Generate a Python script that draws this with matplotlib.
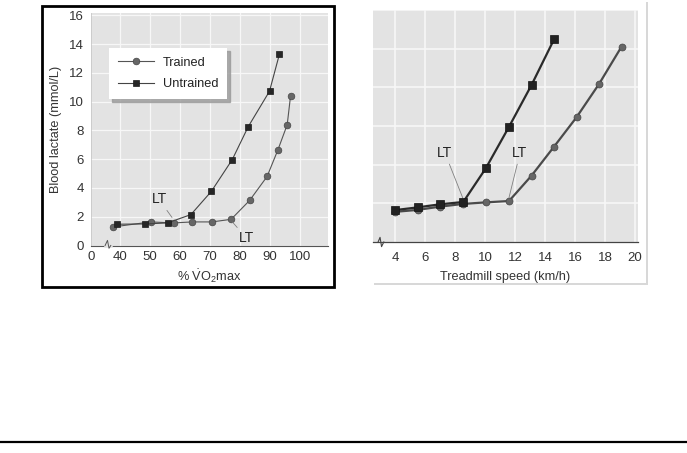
import matplotlib
matplotlib.use("Agg")
import matplotlib.pyplot as plt
from matplotlib.patches import Rectangle
from matplotlib.lines import Line2D
import matplotlib.transforms as mtransforms

plt.rcParams['font.family'] = ['Liberation Sans', 'DejaVu Sans']
plt.rcParams['mathtext.fontset'] = 'custom'
plt.rcParams['mathtext.rm'] = 'Liberation Sans'
plt.rcParams['mathtext.it'] = 'Liberation Sans:italic'

# ---- Left panel data: % VO2max vs blood lactate ----
left_trained_x = [37.6, 50.2, 57.8, 64.1, 70.6, 77.0, 83.2, 89.0, 92.6, 95.7, 96.8]
left_trained_y = [1.29, 1.64, 1.57, 1.64, 1.64, 1.82, 3.14, 4.80, 6.65, 8.40, 10.37]
left_untrained_x = [39.1, 48.3, 55.8, 63.6, 70.4, 77.4, 82.7, 89.8, 93.1]
left_untrained_y = [1.48, 1.50, 1.57, 2.15, 3.76, 5.98, 8.26, 10.73, 13.3]
left_xticks = [30.3, 40, 50, 60, 70, 80, 90, 100]
left_xticklabels = ['0', '40', '50', '60', '70', '80', '90', '100']
left_yticks = [0, 2, 4, 6, 8, 10, 12, 14, 16]

# ---- Right panel data: treadmill speed vs blood lactate ----
right_trained_x = [4.0, 5.5, 7.0, 8.55, 10.05, 11.6, 13.1, 14.6, 16.1, 17.6, 19.1]
right_trained_y = [1.56, 1.66, 1.83, 1.97, 2.05, 2.12, 3.43, 4.93, 6.45, 8.17, 10.1]
right_untrained_x = [4.0, 5.5, 7.0, 8.55, 10.05, 11.6, 13.1, 14.6]
right_untrained_y = [1.65, 1.79, 1.95, 2.07, 3.81, 5.96, 8.12, 10.48]
right_xticks = [4, 6, 8, 10, 12, 14, 16, 18, 20]
right_yticks = [2, 4, 6, 8, 10, 12]

W, H = 687, 453
fig = plt.figure(figsize=(W / 100, H / 100), dpi=100)

def fx(px):
    return px / W

def fy(py):
    return 1 - py / H

BG = '#e3e3e3'
GRID = '#f7f7f7'
TXT = '#333333'
TICK_FS = 9.5
LAB_FS = 9.2
LT_FS = 10

# Right panel card (white with soft shadow)
fig.patches.append(Rectangle((fx(374), fy(285)), fx(648) - fx(374), fy(2) - fy(285),
                             transform=fig.transFigure, facecolor='#d8d8d8', edgecolor='none', zorder=-2))
fig.patches.append(Rectangle((fx(372), fy(283)), fx(646) - fx(372), fy(0) - fy(283),
                             transform=fig.transFigure, facecolor='white', edgecolor='none', zorder=-1))

# Left panel border
fig.patches.append(Rectangle((fx(41.5), fy(286.5)), fx(333.5) - fx(41.5), fy(5.5) - fy(286.5),
                             transform=fig.transFigure, facecolor='none', edgecolor='black',
                             linewidth=2.0, zorder=5))

# Bottom rule
fig.add_artist(Line2D([0, 1], [fy(441.7), fy(441.7)], transform=fig.transFigure,
                      color='black', linewidth=1.6))

# ---------------- Left axes ----------------
axL = fig.add_axes([fx(91), fy(245.5), fx(328) - fx(91), fy(13.3) - fy(245.5)])
axL.set_facecolor(BG)
axL.set_xlim(30.3, 109.3)
axL.set_ylim(0, 16.15)
axL.set_xticks(left_xticks)
axL.set_xticklabels(left_xticklabels)
axL.set_yticks(left_yticks)
axL.tick_params(length=0, labelsize=TICK_FS, colors=TXT, pad=5)
axL.tick_params(axis='x', pad=4)
axL.grid(True, color=GRID, linewidth=0.9)
axL.set_axisbelow(True)
for s in ['top', 'right']:
    axL.spines[s].set_visible(False)
axL.spines['left'].set_color('#c8c8c8')
axL.spines['left'].set_linewidth(0.6)
axL.spines['bottom'].set_color('#555555')
axL.spines['bottom'].set_linewidth(0.8)
axL.get_xgridlines()[0].set_visible(False)

axL.plot(left_trained_x, left_trained_y, '-o', color='#555555', linewidth=0.8,
         markersize=4.8, markerfacecolor='#666666', markeredgecolor='#444444',
         markeredgewidth=0.5, label='Trained', zorder=3)
axL.plot(left_untrained_x, left_untrained_y, '-s', color='#444444', linewidth=0.8,
         markersize=5.0, markerfacecolor='#262626', markeredgecolor='#1a1a1a',
         markeredgewidth=0.5, label='Untrained', zorder=4)
leg = axL.legend(loc='upper left', bbox_to_anchor=(0.076, 0.851), borderaxespad=0,
                 fontsize=LAB_FS, frameon=True, fancybox=False, shadow={'color': '#9a9a9a', 'alpha': 0.8},
                 handlelength=2.8, borderpad=0.7, labelspacing=0.75, handletextpad=0.7)
leg.get_frame().set_edgecolor('none')
leg.get_frame().set_facecolor('white')
for t in leg.get_texts():
    t.set_color('#222222')

axL.annotate('LT', xy=(57.3, 1.95), xytext=(53.0, 3.2), fontsize=LT_FS, color='#222222',
             ha='center', va='center',
             arrowprops=dict(arrowstyle='-', color='#808080', linewidth=0.6, shrinkA=1, shrinkB=0))
axL.annotate('LT', xy=(77.5, 1.62), xytext=(82.2, 0.5), fontsize=LT_FS, color='#222222',
             ha='center', va='center',
             arrowprops=dict(arrowstyle='-', color='#808080', linewidth=0.6, shrinkA=1, shrinkB=0))

axL.set_ylabel('Blood lactate (mmol/L)', fontsize=LAB_FS, color=TXT, labelpad=5)
axL.set_xlabel('% $\\dot{\\mathrm{V}}$O$_2$max', fontsize=LAB_FS, color=TXT, labelpad=3)

# axis break marks
trL = mtransforms.blended_transform_factory(axL.transData, axL.transAxes)
axL.add_line(Line2D([35.0, 36.9], [0.0, 0.0], transform=trL, color=BG, linewidth=1.8,
                    clip_on=False, zorder=6))
axL.add_line(Line2D([35.0, 35.8, 36.3, 36.9], [0.0, 0.022, -0.012, 0.0], transform=trL,
                    color='#555555', linewidth=0.7, clip_on=False, zorder=7))

# ---------------- Right axes ----------------
axR = fig.add_axes([fx(373), fy(242), fx(638) - fx(373), fy(10) - fy(242)])
axR.set_facecolor(BG)
axR.set_xlim(2.53, 20.2)
axR.set_ylim(0, 12)
axR.set_xticks(right_xticks)
axR.set_yticks(right_yticks)
axR.set_yticklabels([])
axR.tick_params(length=0, labelsize=TICK_FS, colors=TXT, pad=7)
axR.grid(True, color=GRID, linewidth=1.2)
axR.set_axisbelow(True)
for s in ['top', 'right', 'left']:
    axR.spines[s].set_visible(False)
axR.spines['bottom'].set_color('#444444')
axR.spines['bottom'].set_linewidth(0.9)

axR.plot(right_trained_x, right_trained_y, '-o', color='#4a4a4a', linewidth=1.6,
         markersize=5.0, markerfacecolor='#666666', markeredgecolor='#444444',
         markeredgewidth=0.5, zorder=3)
axR.plot(right_untrained_x, right_untrained_y, '-s', color='#2a2a2a', linewidth=1.6,
         markersize=5.4, markerfacecolor='#222222', markeredgecolor='#111111',
         markeredgewidth=0.5, zorder=4)

axR.annotate('LT', xy=(8.53, 2.25), xytext=(7.33, 4.6), fontsize=LT_FS, color='#222222',
             ha='center', va='center',
             arrowprops=dict(arrowstyle='-', color='#808080', linewidth=0.6, shrinkA=1, shrinkB=0))
axR.annotate('LT', xy=(11.6, 2.3), xytext=(12.33, 4.6), fontsize=LT_FS, color='#222222',
             ha='center', va='center',
             arrowprops=dict(arrowstyle='-', color='#808080', linewidth=0.6, shrinkA=1, shrinkB=0))

axR.set_xlabel('Treadmill speed (km/h)', fontsize=LAB_FS, color=TXT, labelpad=5)

trR = mtransforms.blended_transform_factory(axR.transData, axR.transAxes)
axR.add_line(Line2D([2.87, 3.0, 3.1, 3.25], [0.0, 0.02, -0.02, 0.0], transform=trR,
                    color='#444444', linewidth=0.8, clip_on=False, zorder=7))

fig.savefig('out.png', dpi=100)
